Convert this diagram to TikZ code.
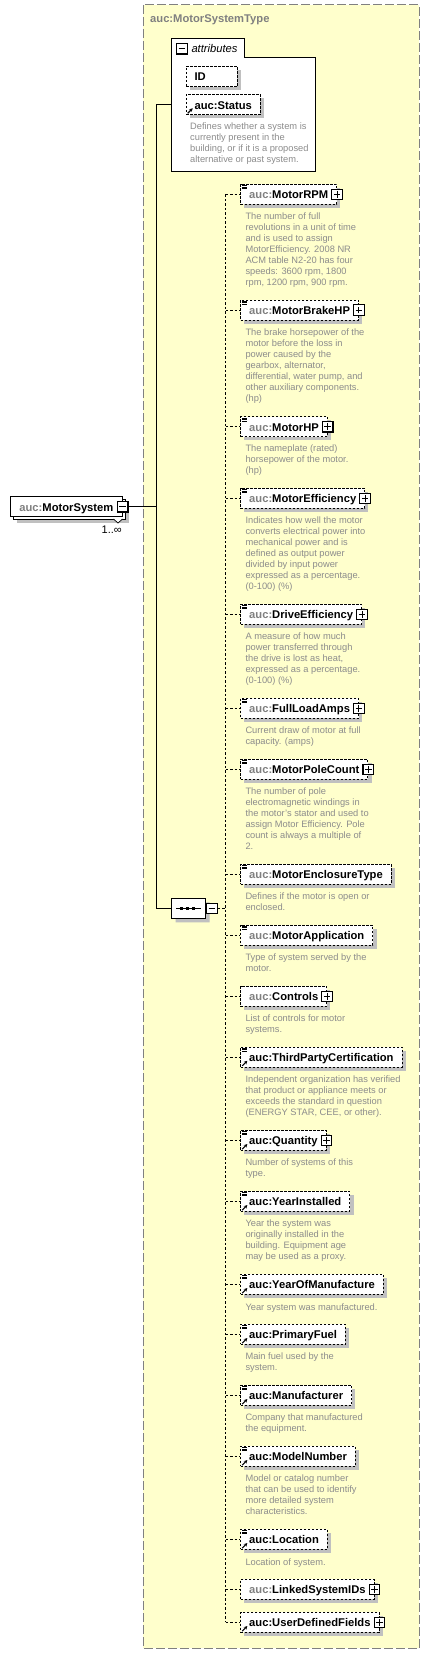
\documentclass[tikz,border=0pt]{standalone}
\usepackage{fontspec}
\setmainfont{Liberation Sans}
\usepackage{tikz}
\usetikzlibrary{shadows,shapes.misc,arrows.meta}
\definecolor{typeyellow}{RGB}{255,255,204}
\definecolor{typeborder}{RGB}{128,128,128}
\definecolor{aucgray}{RGB}{128,128,128}
\definecolor{docgray}{RGB}{140,140,140}
\definecolor{shadowgray}{RGB}{192,192,192}
\newcommand{\lbl}{\fontsize{11.2}{13}\selectfont\bfseries}
\newcommand{\dsc}{\fontsize{9.3}{11}\selectfont}
\newcommand{\auc}[1]{\textcolor{aucgray}{auc:}#1}
\newcommand{\docmark}[1]{%
  \foreach \dy in {1.6pt,3.2pt,4.8pt}
    \draw[line width=.8pt] ([shift={(2pt,-\dy)}]#1.north west) -- ++(5pt,0pt);}
\newcommand{\refmark}[1]{%
  \draw[line width=1.1pt,-{Stealth[length=3.4pt,width=3.6pt]}] ([shift={(2pt,1.6pt)}]#1.south west) -- ([shift={(7pt,6.6pt)}]#1.south west);}
\tikzset{
  elem/.style={draw, dash pattern=on 2.5pt off 1.5pt, line width=.8pt, fill=white,
    minimum height=20pt, inner xsep=8.5pt, inner ysep=0pt, text height=9pt, text depth=0pt,
    anchor=west, font=\lbl,
    drop shadow={shadow xshift=3.7pt, shadow yshift=-3.7pt, fill=shadowgray, opacity=1}},
  doc/.style={anchor=north west, inner sep=0pt, align=left, text=docgray, font=\dsc,
    execute at begin node=\strut},
  pmbox/.style={draw, solid, fill=white, line width=1.1pt, minimum size=10.5pt, inner sep=0pt},
  plusbox/.style={pmbox, path picture={
    \draw[line width=.9pt] ([xshift=-3.3pt]path picture bounding box.center) -- ([xshift=3.3pt]path picture bounding box.center)
      ([yshift=-3.3pt]path picture bounding box.center) -- ([yshift=3.3pt]path picture bounding box.center);}},
  minusbox/.style={pmbox, path picture={
    \draw[line width=.9pt] ([xshift=-3.3pt]path picture bounding box.center) -- ([xshift=3.3pt]path picture bounding box.center);}},
  stub/.style={dash pattern=on 2.5pt off 2pt, line width=.8pt},
  tree/.style={line width=1pt},
}
\begin{document}
\begin{tikzpicture}[x=1pt,y=-1pt]
\useasboundingbox (0,0) rectangle (430,1654);

\draw[typeborder, fill=typeyellow, dash pattern=on 9pt off 3pt, line width=1pt] (143.3,5) rectangle (419.3,1648.3);
\node[anchor=base west, inner sep=0pt, font=\lbl, text=aucgray] (typetitle) at (150,22.5) {auc:MotorSystemType};

\node[draw, solid, line width=.8pt, fill=white, minimum height=20pt, inner xsep=9pt, inner ysep=0pt,
  text height=9pt, text depth=0pt, anchor=west, font=\lbl,
  drop shadow={shadow xshift=6.5pt, shadow yshift=-6.5pt, fill=shadowgray, opacity=1},
  copy shadow={shadow xshift=3pt, shadow yshift=-3pt, draw=black, fill=white, line width=.8pt}]
  (msys) at (10,506.7) {\auc{MotorSystem}\hspace{4.5pt}};
\draw[line width=.7pt, fill=white] (113.5,519) -- (118,523) -- (122.5,519);
\node[minusbox] (msysminus) at (msys.east) {};
\node[anchor=east, inner sep=0pt, font=\fontsize{11}{13}\selectfont] (msyscard) at (122,530) {1..∞};

\draw[line width=.9pt, fill=white] (171.3,38.3) -- (244.3,38.3) -- (244.3,57.3) -- (315.3,57.3) -- (315.3,171.7) -- (171.3,171.7) -- cycle;
\coordinate (attrleft) at (171.3,104.5);
\node[minusbox] (attrminus) at (181.8,48.8) {};
\node[anchor=base west, inner sep=0pt, font=\fontsize{11.2}{13}\selectfont\itshape] (attrtitle) at (191.3,52.3) {attributes};
\node[elem, text width=34.3pt] (id) at (185.7,76.5) {ID};
\node[elem] (status) at (185.7,104.5) {auc:Status};
\refmark{status}
\node[doc] (statusdoc) at (190,122.5) {Defines whether a system is\\currently present in the\\building, or if it is a proposed\\alternative or past system.};

\node[chamfered rectangle, chamfered rectangle xsep=5pt, draw, line width=.8pt, fill=white,
  minimum width=34pt, minimum height=20pt, inner sep=0pt,
  drop shadow={shadow xshift=4pt, shadow yshift=-4pt, fill=shadowgray, opacity=1}] (seq) at (188.7,908.3) {};
\draw[line width=.8pt] ([xshift=-12.7pt]seq.center) -- ([xshift=12pt]seq.center);
\fill ([xshift=-7pt]seq.center) +(-1.6pt,-1.6pt) rectangle +(1.6pt,1.6pt);
\fill ([xshift=-1pt]seq.center) +(-1.6pt,-1.6pt) rectangle +(1.6pt,1.6pt);
\fill ([xshift=5pt]seq.center) +(-1.6pt,-1.6pt) rectangle +(1.6pt,1.6pt);
\node[minusbox, anchor=west] (seqminus) at (seq.east) {};

\coordinate (trunk) at (156.7,506.7);
\draw[tree] (msysminus.east) -- (trunk);
\draw[tree] (attrleft) -| (trunk) |- (seq.west);

\node[elem] (rpm) at (240.3,194.3) {\auc{MotorRPM}\hspace{4.5pt}};
\docmark{rpm}
\node[plusbox] (rpmplus) at (rpm.east) {};
\node[doc] (rpmdoc) at (245.3,212.1) {The number of full\\revolutions in a unit of time\\and is used to assign\\MotorEfficiency. 2008 NR\\ACM table N2-20 has four\\speeds: 3600 rpm, 1800\\rpm, 1200 rpm, 900 rpm.};

\node[elem] (brake) at (240.3,310) {\auc{MotorBrakeHP}\hspace{5.5pt}};
\docmark{brake}
\node[plusbox] (brakeplus) at (brake.east) {};
\node[doc] (brakedoc) at (245.3,328.5) {The brake horsepower of the\\motor before the loss in\\power caused by the\\gearbox, alternator,\\differential, water pump, and\\other auxiliary components.\\(hp)};

\node[elem] (hp) at (240.3,426.7) {\auc{MotorHP}\hspace{4.5pt}};
\docmark{hp}
\node[plusbox] (hpplus) at (hp.east) {};
\node[doc] (hpdoc) at (245.3,444.5) {The nameplate (rated)\\horsepower of the motor.\\(hp)};

\node[elem] (eff) at (240.3,498.3) {\auc{MotorEfficiency}\hspace{4.5pt}};
\docmark{eff}
\node[plusbox] (effplus) at (eff.east) {};
\node[doc] (effdoc) at (245.3,516.5) {Indicates how well the motor\\converts electrical power into\\mechanical power and is\\defined as output power\\divided by input power\\expressed as a percentage.\\(0-100) (\%)};

\node[elem] (drive) at (240.3,614.3) {\auc{DriveEfficiency}\hspace{4.5pt}};
\docmark{drive}
\node[plusbox] (driveplus) at (drive.east) {};
\node[doc] (drivedoc) at (245.3,632.5) {A measure of how much\\power transferred through\\the drive is lost as heat,\\expressed as a percentage.\\(0-100) (\%)};

\node[elem] (amps) at (240.3,708.3) {\auc{FullLoadAmps}\hspace{4.5pt}};
\docmark{amps}
\node[plusbox] (ampsplus) at (amps.east) {};
\node[doc] (ampsdoc) at (245.3,726.5) {Current draw of motor at full\\capacity. (amps)};

\node[elem] (pole) at (240.3,769.3) {\auc{MotorPoleCount}\hspace{4.5pt}};
\docmark{pole}
\node[plusbox] (poleplus) at (pole.east) {};
\node[doc] (poledoc) at (245.3,787.5) {The number of pole\\electromagnetic windings in\\the motor's stator and used to\\assign Motor Efficiency. Pole\\count is always a multiple of\\2.};

\node[elem] (encl) at (240.3,874.3) {\auc{MotorEnclosureType}};
\docmark{encl}
\node[doc] (encldoc) at (245.3,892.5) {Defines if the motor is open or\\enclosed.};

\node[elem] (appl) at (240.3,935) {\auc{MotorApplication}};
\docmark{appl}
\node[doc] (appldoc) at (245.3,953.5) {Type of system served by the\\motor.};

\node[elem] (ctrl) at (240.3,996.3) {\auc{Controls}\hspace{4.5pt}};
\node[plusbox] (ctrlplus) at (ctrl.east) {};
\node[doc] (ctrldoc) at (245.3,1014.5) {List of controls for motor\\systems.};

\node[elem] (tpc) at (240.3,1057) {auc:ThirdPartyCertification};
\docmark{tpc}
\refmark{tpc}
\node[doc] (tpcdoc) at (245.3,1075.5) {Independent organization has verified\\that product or appliance meets or\\exceeds the standard in question\\(ENERGY STAR, CEE, or other).};

\node[elem] (qty) at (240.3,1140.3) {auc:Quantity\hspace{4.5pt}};
\docmark{qty}
\refmark{qty}
\node[plusbox] (qtyplus) at (qty.east) {};
\node[doc] (qtydoc) at (245.3,1158.1) {Number of systems of this\\type.};

\node[elem] (yinst) at (240.3,1201.3) {auc:YearInstalled};
\docmark{yinst}
\refmark{yinst}
\node[doc] (yinstdoc) at (245.3,1219.5) {Year the system was\\originally installed in the\\building. Equipment age\\may be used as a proxy.};

\node[elem] (ymfg) at (240.3,1284.3) {auc:YearOfManufacture};
\docmark{ymfg}
\refmark{ymfg}
\node[doc] (ymfgdoc) at (245.3,1302.5) {Year system was manufactured.};

\node[elem] (fuel) at (240.3,1334.3) {auc:PrimaryFuel};
\docmark{fuel}
\refmark{fuel}
\node[doc] (fueldoc) at (245.3,1352.5) {Main fuel used by the\\system.};

\node[elem] (mfr) at (240.3,1395.3) {auc:Manufacturer};
\docmark{mfr}
\refmark{mfr}
\node[doc] (mfrdoc) at (245.3,1413.5) {Company that manufactured\\the equipment.};

\node[elem] (model) at (240.3,1456.3) {auc:ModelNumber};
\docmark{model}
\refmark{model}
\node[doc] (modeldoc) at (245.3,1474.8) {Model or catalog number\\that can be used to identify\\more detailed system\\characteristics.};

\node[elem] (loc) at (240.3,1539.3) {auc:Location};
\docmark{loc}
\refmark{loc}
\node[doc] (locdoc) at (245.3,1557.8) {Location of system.};

\node[elem] (linked) at (240.3,1589.3) {\auc{LinkedSystemIDs}\hspace{4.5pt}};
\node[plusbox] (linkedplus) at (linked.east) {};

\node[elem] (udf) at (240.3,1622.3) {auc:UserDefinedFields\hspace{4.5pt}};
\refmark{udf}
\node[plusbox] (udfplus) at (udf.east) {};

\coordinate (dtrunk) at (225.7,0);
\draw[stub] (rpm.west -| dtrunk) -- (udf.west -| dtrunk);
\draw[stub] (seqminus.east) -- (seqminus.east -| dtrunk);
\draw[stub] (dtrunk |- rpm.west) -- (rpm.west);
\draw[stub] (dtrunk |- brake.west) -- (brake.west);
\draw[stub] (dtrunk |- hp.west) -- (hp.west);
\draw[stub] (dtrunk |- eff.west) -- (eff.west);
\draw[stub] (dtrunk |- drive.west) -- (drive.west);
\draw[stub] (dtrunk |- amps.west) -- (amps.west);
\draw[stub] (dtrunk |- pole.west) -- (pole.west);
\draw[stub] (dtrunk |- encl.west) -- (encl.west);
\draw[stub] (dtrunk |- appl.west) -- (appl.west);
\draw[stub] (dtrunk |- ctrl.west) -- (ctrl.west);
\draw[stub] (dtrunk |- tpc.west) -- (tpc.west);
\draw[stub] (dtrunk |- qty.west) -- (qty.west);
\draw[stub] (dtrunk |- yinst.west) -- (yinst.west);
\draw[stub] (dtrunk |- ymfg.west) -- (ymfg.west);
\draw[stub] (dtrunk |- fuel.west) -- (fuel.west);
\draw[stub] (dtrunk |- mfr.west) -- (mfr.west);
\draw[stub] (dtrunk |- model.west) -- (model.west);
\draw[stub] (dtrunk |- loc.west) -- (loc.west);
\draw[stub] (dtrunk |- linked.west) -- (linked.west);
\draw[stub] (dtrunk |- udf.west) -- (udf.west);
\end{tikzpicture}
\end{document}
